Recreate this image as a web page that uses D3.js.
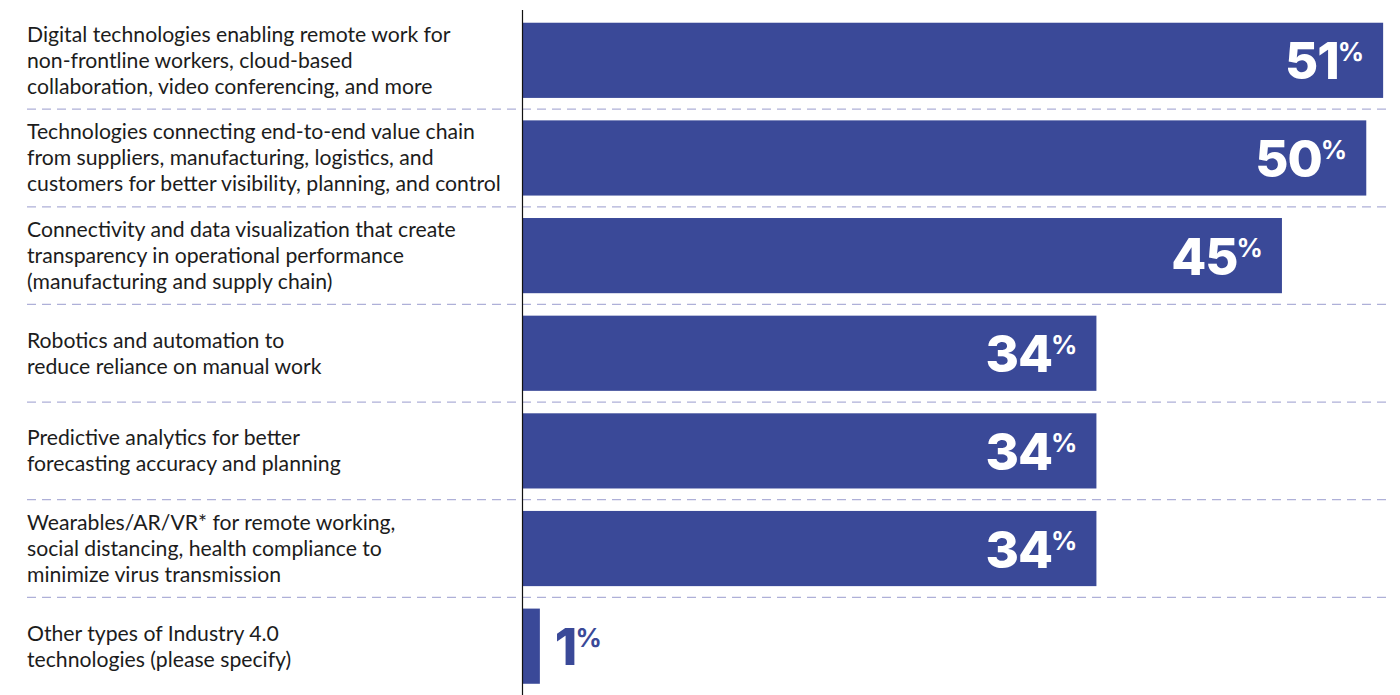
<!DOCTYPE html>
<html>
<head>
<meta charset="utf-8">
<script src="https://cdn.jsdelivr.net/npm/d3@7"></script>
<style>
  html, body { margin: 0; padding: 0; background: #fff; }
  #chart { width: 1400px; height: 695px; }
</style>
</head>
<body>
<div id="chart"></div>
<script>
const categories = [
  ["Digital technologies enabling remote work for", "non-frontline workers, cloud-based", "collaboration, video conferencing, and more"],
  ["Technologies connecting end-to-end value chain", "from suppliers, manufacturing, logistics, and", "customers for better visibility, planning, and control"],
  ["Connectivity and data visualization that create", "transparency in operational performance", "(manufacturing and supply chain)"],
  ["Robotics and automation to", "reduce reliance on manual work"],
  ["Predictive analytics for better", "forecasting accuracy and planning"],
  ["Wearables/AR/VR* for remote working,", "social distancing, health compliance to", "minimize virus transmission"],
  ["Other types of Industry 4.0", "technologies (please specify)"]
];
const values = [51, 50, 45, 34, 34, 34, 1];

const BAR = "#3a4998";
const width = 1400, height = 695;
const axisX = 522.5;

const svg = d3.select("#chart").append("svg")
  .attr("width", width)
  .attr("height", height);

const x = d3.scaleLinear().domain([0, 52]).range([523, 1400]);

const y = d3.scaleBand()
  .domain(d3.range(values.length))
  .range([11.5, 695])
  .paddingInner(0.23)
  .paddingOuter(0.115);

const step = y.step();

// dashed separators
svg.append("g")
  .selectAll("line")
  .data(d3.range(1, values.length))
  .enter()
  .append("line")
  .attr("x1", 27)
  .attr("x2", 1388)
  .attr("y1", i => y(i) - (step - y.bandwidth()) / 2)
  .attr("y2", i => y(i) - (step - y.bandwidth()) / 2)
  .attr("stroke", "#aeb0d8")
  .attr("stroke-width", 1.3)
  .attr("stroke-dasharray", "9,6");

// bars
svg.append("g")
  .selectAll("rect")
  .data(values)
  .enter()
  .append("rect")
  .attr("x", x(0))
  .attr("y", (d, i) => y(i))
  .attr("width", d => x(d) - x(0))
  .attr("height", y.bandwidth())
  .attr("fill", BAR);

// axis line
svg.append("line")
  .attr("x1", axisX).attr("x2", axisX)
  .attr("y1", 10).attr("y2", height)
  .attr("stroke", "#111")
  .attr("stroke-width", 1.2);

// category labels
const lineH = 26;
svg.append("g")
  .selectAll("text")
  .data(categories)
  .enter()
  .append("text")
  .attr("font-family", "Lato, sans-serif")
  .attr("font-size", "21.2px")
  .attr("fill", "#1c1c1c")
  .each(function (lines, i) {
    const cy = y(i) + y.bandwidth() / 2;
    const top = cy - (lines.length - 1) * lineH / 2;
    d3.select(this).selectAll("tspan")
      .data(lines)
      .enter()
      .append("tspan")
      .attr("x", 27)
      .attr("y", (l, j) => top + j * lineH + 7.5)
      .text(l => l);
  });

// value labels
const vl = svg.append("g")
  .selectAll("text")
  .data(values)
  .enter()
  .append("text")
  .attr("font-family", "Inter, 'Open Sans', sans-serif")
  .attr("font-weight", 800)
  .attr("x", d => d > 5 ? x(d) - 19 : x(d) + 15)
  .attr("y", (d, i) => y(i) + y.bandwidth() / 2 + 19)
  .attr("text-anchor", d => d > 5 ? "end" : "start")
  .attr("fill", d => d > 5 ? "#fff" : BAR);

vl.append("tspan")
  .attr("font-size", "51px")
  .attr("letter-spacing", "-1px")
  .text(d => d);

vl.append("tspan")
  .attr("font-size", "26px")
  .attr("font-weight", 700)
  .attr("dx", -1)
  .attr("dy", -18)
  .text("%");
</script>
</body>
</html>
